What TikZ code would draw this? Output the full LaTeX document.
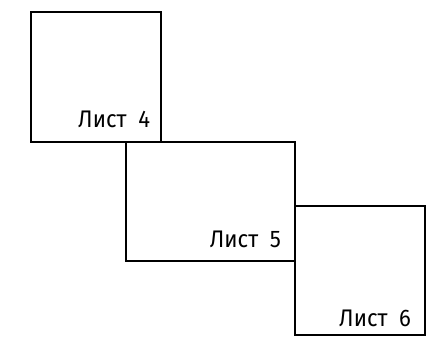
\documentclass[tikz,border=0pt]{standalone}
\usepackage{graphicx}
\usepackage{fontspec}
\setmainfont{Fira Sans}
\newcommand{\sheettext}[1]{\scalebox{0.92}[1.0]{\fontsize{24}{26}\selectfont #1}}
\tikzset{
  x=1pt,y=-1pt,
  sheet/.style={draw=black,line width=1.25pt,line join=miter,fill=none,inner sep=0pt,outer sep=0pt,anchor=north west},
  sheetlabel/.style={anchor=base east,inner sep=0pt,outer sep=0pt,text=black}
}
\begin{document}
\begin{tikzpicture}
\useasboundingbox (0,0) rectangle (447,337);
\node[sheet,minimum width=130pt,minimum height=130pt] (s4) at (31,12) {};
\node[sheet,minimum width=169pt,minimum height=119pt] (s5) at (126,142) {};
\node[sheet,minimum width=130pt,minimum height=129pt] (s6) at (295,206) {};
\node[sheetlabel] (l4) at (150,127) {\sheettext{Лист\ \ 4}};
\node[sheetlabel] (l5) at (281,247) {\sheettext{Лист\ \ 5}};
\node[sheetlabel] (l6) at (411,326) {\sheettext{Лист\ \ 6}};
\end{tikzpicture}
\end{document}
